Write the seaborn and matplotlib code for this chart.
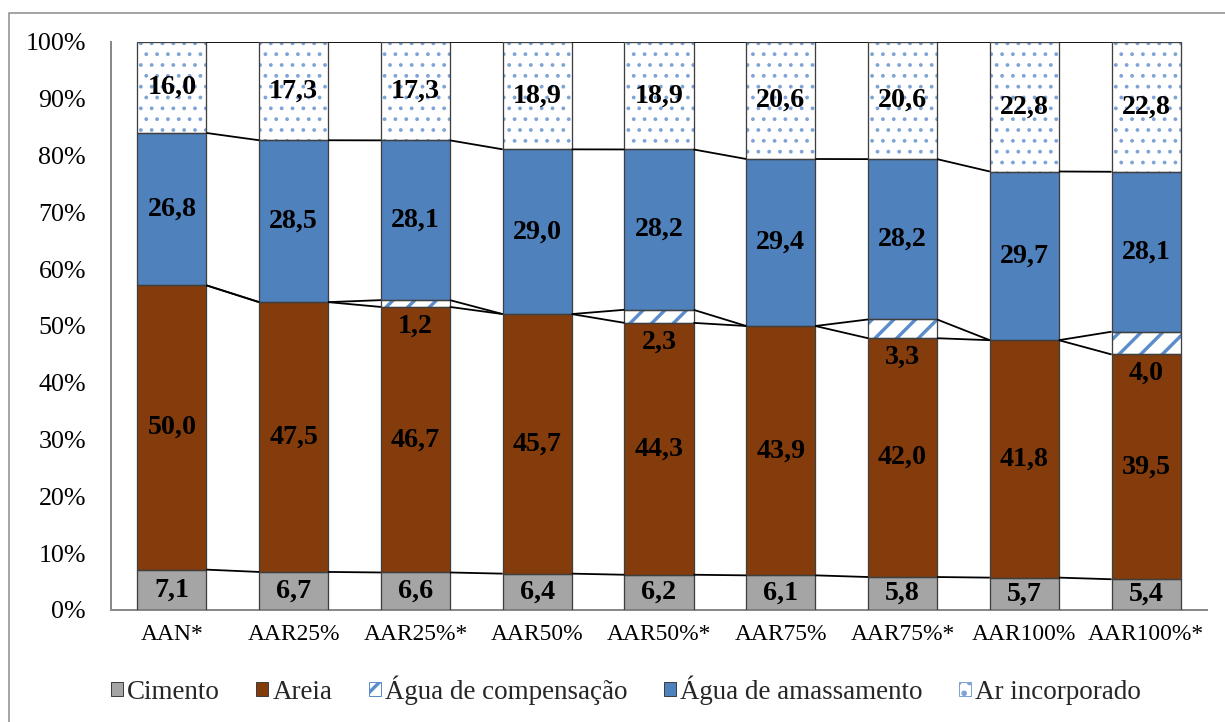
import numpy as np
import pandas as pd
import seaborn as sns
import matplotlib
matplotlib.use("Agg")
import matplotlib.pyplot as plt
from matplotlib.patches import Patch, Rectangle

# Composition of the mortar mixes (% by volume)
categorias = ["AAN*", "AAR25%", "AAR25%*", "AAR50%", "AAR50%*",
              "AAR75%", "AAR75%*", "AAR100%", "AAR100%*"]
cimento = [7.1, 6.7, 6.6, 6.4, 6.2, 6.1, 5.8, 5.7, 5.4]
areia = [50.0, 47.5, 46.7, 45.7, 44.3, 43.9, 42.0, 41.8, 39.5]
agua_compensacao = [0.0, 0.0, 1.2, 0.0, 2.3, 0.0, 3.3, 0.0, 4.0]
agua_amassamento = [26.8, 28.5, 28.1, 29.0, 28.2, 29.4, 28.2, 29.7, 28.1]
ar_incorporado = [16.0, 17.3, 17.3, 18.9, 18.9, 20.6, 20.6, 22.8, 22.8]
series_nomes = ["Cimento", "Areia", "Água de compensação",
                "Água de amassamento", "Ar incorporado"]
y_ticks = [0, 10, 20, 30, 40, 50, 60, 70, 80, 90, 100]

DPI = 65
W, H = 1225, 722


def px(n):
    """Pixels -> points at the figure dpi."""
    return n * 72.0 / DPI


sns.set_theme(style="white")
plt.rcParams["font.family"] = ["Liberation Serif", "DejaVu Serif"]
plt.rcParams["hatch.linewidth"] = px(3.4)

C_GRAY = "#A5A5A5"
C_BROWN = "#843C0C"
C_BLUE = "#4F81BD"
C_STRIPE = "#5B8DCB"
C_DOT = "#7EA3D6"
C_EDGE = "#3F3F3F"
C_AXIS = "#898989"

# hatch pattern, hatch colour and hatch line width (px) per series
HATCHES = [None, None, ("/", C_STRIPE, 3.4), None, (".", C_DOT, 1.6)]
FACES = [C_GRAY, C_BROWN, "white", C_BLUE, "white"]

series = [cimento, areia, agua_compensacao, agua_amassamento, ar_incorporado]
dados = np.array(series, dtype=float)
totais = dados.sum(axis=0)
pct = dados / totais * 100.0
acum = np.cumsum(pct, axis=0)  # tops of each segment

fig = plt.figure(figsize=(W / DPI, H / DPI), dpi=DPI)
ax = fig.add_axes([111 / W, 1 - 610 / H, (1207 - 111) / W, (610 - 42) / H])


def aplicar_hatch(p, spec):
    pat, cor, lw = spec
    p.set_hatch(pat)
    p.set_edgecolor(cor)
    if hasattr(p, "set_hatch_linewidth"):
        p.set_hatch_linewidth(px(lw))


# Cumulative bars drawn from the top layer down so each covers the one below
largura = 0.567
for k in range(4, -1, -1):
    df = pd.DataFrame({"mistura": categorias, "topo": acum[k]})
    n0 = len(ax.patches)
    sns.barplot(data=df, x="mistura", y="topo", order=categorias,
                color=FACES[k], saturation=1, width=largura,
                linewidth=0, ax=ax)
    if HATCHES[k]:
        for p in ax.patches[n0:]:
            aplicar_hatch(p, HATCHES[k])
            p.set_linewidth(0)

# Segment outlines
for k in range(5):
    baixo = acum[k - 1] if k > 0 else np.zeros(len(categorias))
    for i in range(len(categorias)):
        if pct[k, i] <= 0:
            continue
        ax.add_patch(Rectangle((i - largura / 2, baixo[i]), largura,
                               pct[k, i], fill=False, ec=C_EDGE,
                               lw=px(1.3), zorder=3))

# Series lines between neighbouring bars
for k in range(5):
    for i in range(len(categorias) - 1):
        ax.plot([i + largura / 2, i + 1 - largura / 2],
                [acum[k, i], acum[k, i + 1]], color="black", lw=px(1.8),
                zorder=4, solid_capstyle="butt")

# Value labels
fs_lab = px(28)
for i in range(len(categorias)):
    for k in range(5):
        v = dados[k, i]
        if v <= 0:
            continue
        txt = f"{v:.1f}".replace(".", ",")
        if k == 2:
            ax.annotate(txt, xy=(i, acum[1, i]), xytext=(0, -px(19)),
                        textcoords="offset points", ha="center", va="center",
                        fontsize=fs_lab, fontweight="bold", color="black",
                        zorder=5)
        else:
            meio = acum[k, i] - pct[k, i] / 2
            ax.text(i, meio, txt, ha="center", va="center", fontsize=fs_lab,
                    fontweight="bold", color="black", zorder=5)

ax.set_xlim(-0.5, len(categorias) - 0.5)
ax.set_ylim(0, 100)
ax.set_yticks(y_ticks)
ax.set_yticklabels([f"{t}%" for t in y_ticks])
ax.set_xlabel("")
ax.set_ylabel("")
ax.tick_params(axis="both", length=0, colors="black")
ax.tick_params(axis="y", pad=px(25), labelsize=px(26))
ax.tick_params(axis="x", pad=px(14), labelsize=px(23.5))
for s in ["top", "right"]:
    ax.spines[s].set_visible(False)
for s in ["left", "bottom"]:
    ax.spines[s].set_color(C_AXIS)
    ax.spines[s].set_linewidth(px(2))
ax.grid(False)

# Legend
handles = []
for k in range(5):
    if HATCHES[k]:
        h = Patch(facecolor="white", lw=px(1))
        aplicar_hatch(h, HATCHES[k])
    else:
        h = Patch(facecolor=FACES[k], edgecolor=C_EDGE, lw=px(1))
    handles.append(h)
fig.legend(handles, series_nomes, loc="center", ncol=5,
           bbox_to_anchor=(626 / W, 1 - 690 / H), frameon=False,
           fontsize=px(27), handlelength=0.45, handleheight=0.45,
           handletextpad=0.15, columnspacing=1.35)

# Chart border
fig.add_artist(Rectangle((9 / W, -0.05), 1.2, 1 - 13 / H + 0.05,
                         transform=fig.transFigure, fill=False,
                         ec=C_AXIS, lw=px(1.5)))

fig.savefig("out.png", dpi=DPI)
